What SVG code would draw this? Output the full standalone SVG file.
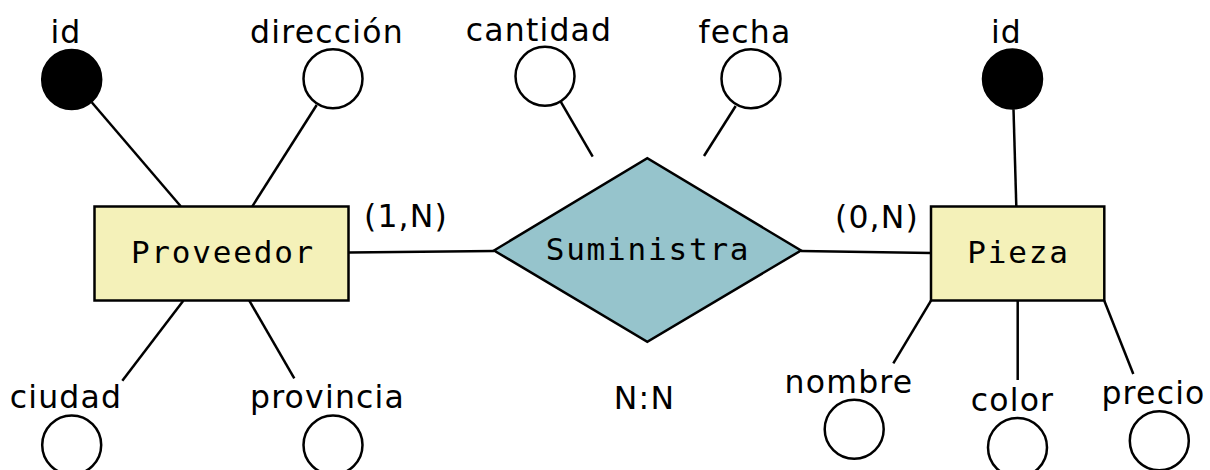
<svg xmlns="http://www.w3.org/2000/svg" width="1210" height="470" viewBox="0 0 1210 470">
<style>
.ent{fill:#f4f1b9;stroke:#000;stroke-width:2.5}
.rel{fill:#96c4cc;stroke:#000;stroke-width:2.5}
.att{fill:#fff;stroke:#000;stroke-width:2.5}
.key{fill:#000;stroke:#000;stroke-width:2.5}
.ln{stroke:#000;stroke-width:2.5;fill:none}
.lbl{font-family:"DejaVu Sans","Liberation Sans",sans-serif;font-size:31.5px;letter-spacing:1.2px;text-anchor:middle;fill:#000}
.nm{font-family:"DejaVu Sans Mono","Liberation Mono",monospace;font-size:31px;letter-spacing:1.8px;text-anchor:middle;fill:#000}
</style>
<rect width="1210" height="470" fill="#fff"/>
<g id="connectors">
<line class="ln" x1="349" y1="252.5" x2="494" y2="251"/>
<line class="ln" x1="801" y1="251" x2="931" y2="253"/>
<line class="ln" x1="91.7" y1="102.3" x2="180.7" y2="206.3"/>
<line class="ln" x1="316.7" y1="105" x2="252.3" y2="206.3"/>
<line class="ln" x1="183.3" y1="300.7" x2="122.3" y2="380.7"/>
<line class="ln" x1="249.3" y1="300.7" x2="294.3" y2="378.3"/>
<line class="ln" x1="560.7" y1="101.7" x2="592.7" y2="156.7"/>
<line class="ln" x1="735.7" y1="106" x2="704" y2="156"/>
<line class="ln" x1="1013.5" y1="109.3" x2="1016.3" y2="206.3"/>
<line class="ln" x1="931" y1="300.7" x2="893.3" y2="363.3"/>
<line class="ln" x1="1017.7" y1="300.7" x2="1017.7" y2="380"/>
<line class="ln" x1="1104.3" y1="300.7" x2="1133.3" y2="374"/>
<text class="lbl" x="406" y="226.5">(1,N)</text>
<text class="lbl" x="877" y="227.5">(0,N)</text>
</g>
<g id="proveedor">
<rect class="ent" x="94.5" y="206.5" width="254" height="94"/>
<text class="nm" x="223" y="262.5">Proveedor</text>
</g>
<g id="suministra">
<polygon class="rel" points="494,250.5 647.3,158.3 801,250.5 647.3,341.7"/>
<text class="nm" x="648" y="260">Suministra</text>
<text class="lbl" x="644.5" y="409">N:N</text>
</g>
<g id="pieza">
<rect class="ent" x="931" y="206.5" width="173.3" height="94"/>
<text class="nm" x="1018.5" y="263">Pieza</text>
</g>
<g id="prov-id">
<circle class="key" cx="71.7" cy="79.5" r="29.5"/>
<text class="lbl" x="66" y="43">id</text>
</g>
<g id="prov-direccion">
<circle class="att" cx="333" cy="78.8" r="29.5"/>
<text class="lbl" x="327" y="43">dirección</text>
</g>
<g id="prov-ciudad">
<circle class="att" cx="71.7" cy="445" r="29.5"/>
<text class="lbl" x="66" y="407.5">ciudad</text>
</g>
<g id="prov-provincia">
<circle class="att" cx="333" cy="445" r="29.5"/>
<text class="lbl" x="327.5" y="408">provincia</text>
</g>
<g id="sum-cantidad">
<circle class="att" cx="545" cy="76.3" r="29.5"/>
<text class="lbl" x="539" y="40.5">cantidad</text>
</g>
<g id="sum-fecha">
<circle class="att" cx="751" cy="78.8" r="29.5"/>
<text class="lbl" x="745" y="43.3">fecha</text>
</g>
<g id="pieza-id">
<circle class="key" cx="1012.5" cy="79" r="29.5"/>
<text class="lbl" x="1006.5" y="43.3">id</text>
</g>
<g id="pieza-nombre">
<circle class="att" cx="854.2" cy="429.2" r="29.5"/>
<text class="lbl" x="849" y="393.3">nombre</text>
</g>
<g id="pieza-color">
<circle class="att" cx="1017.5" cy="447.5" r="29.5"/>
<text class="lbl" x="1012.5" y="410.7">color</text>
</g>
<g id="pieza-precio">
<circle class="att" cx="1159.3" cy="440.7" r="29.5"/>
<text class="lbl" x="1153.5" y="404">precio</text>
</g>
</svg>
